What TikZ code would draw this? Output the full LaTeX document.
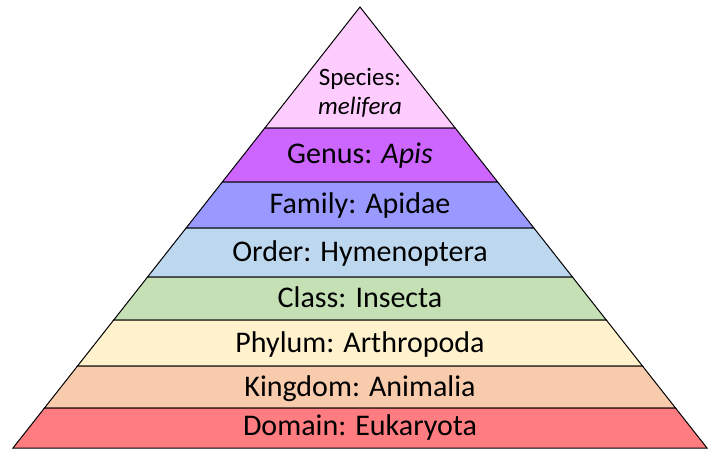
\documentclass[tikz,border=0pt]{standalone}
\usepackage{fontspec}
\setmainfont{Carlito}
\definecolor{cspecies}{HTML}{FFCCFF}
\definecolor{cgenus}{HTML}{CC66FF}
\definecolor{cfamily}{HTML}{9999FF}
\definecolor{corder}{HTML}{BDD7EE}
\definecolor{cclass}{HTML}{C5E0B4}
\definecolor{cphylum}{HTML}{FFF2CC}
\definecolor{ckingdom}{HTML}{F8CBAD}
\definecolor{cdomain}{HTML}{FF7C80}
\begin{document}
\begin{tikzpicture}[x=1pt,y=-1pt,
  band/.style={draw=black, line width=1pt, line join=miter},
  lbl/.style={font=\fontsize{30}{36}\selectfont, text=black, inner sep=0pt, anchor=base},
  small/.style={font=\fontsize{25}{29}\selectfont, text=black, inner sep=0pt, anchor=base}]
\useasboundingbox (0,0) rectangle (713,453);
\foreach \t/\b/\c in {7/128/cspecies,128/182/cgenus,182/228/cfamily,228/277/corder,277/320/cclass,320/366/cphylum,366/408/ckingdom,408/448/cdomain}{
  \path[band, fill=\c] ({360-0.78685*(\t-7)},\t) -- ({360+0.78685*(\t-7)},\t)
    -- ({360+0.78685*(\b-7)},\b) -- ({360-0.78685*(\b-7)},\b) -- cycle;
}
\node[small] (species) at (360,85) {Species:};
\node[small] (melifera) at (360,114) {\itshape melifera};
\node[lbl] (genus) at (360,163) {Genus: \itshape Apis};
\node[lbl] (family) at (360,213) {Family: Apidae};
\node[lbl] (order) at (360,261) {Order: Hymenoptera};
\node[lbl] (class) at (360,307) {Class: Insecta};
\node[lbl] (phylum) at (360,352) {Phylum: Arthropoda};
\node[lbl] (kingdom) at (360,396) {Kingdom: Animalia};
\node[lbl] (domain) at (360,435) {Domain: Eukaryota};
\end{tikzpicture}
\end{document}
